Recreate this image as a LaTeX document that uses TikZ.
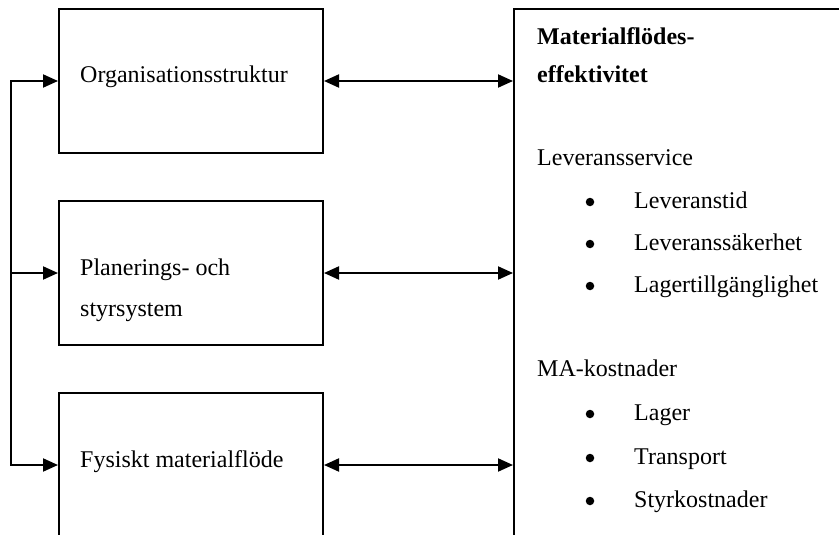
\documentclass[tikz,border=0pt]{standalone}
\usepackage{fontspec}
\setmainfont{Liberation Serif}
\usetikzlibrary{arrows.meta}
\begin{document}
\begin{tikzpicture}[x=1pt,y=-1pt,
  box/.style={draw,line width=2pt,anchor=north west,inner sep=0pt},
  lbl/.style={anchor=base west,inner sep=0pt,font=\fontsize{24}{28}\selectfont},
  bul/.style={circle,fill,inner sep=0pt,minimum size=8.5pt},
  con/.style={line width=2pt,-{Triangle[length=15pt,width=13pt]}},
  dcon/.style={line width=2pt,{Triangle[length=15pt,width=13pt]}-{Triangle[length=15pt,width=13pt]}}]
\useasboundingbox (0,0) rectangle (839,535);
\clip (0,0) rectangle (839,535);
% boxes
\node[box,minimum width=264pt,minimum height=144pt] (b1) at (58,8) {};
\node[box,minimum width=264pt,minimum height=144pt] (b2) at (58,200) {};
\node[box,minimum width=264pt,minimum height=144pt] (b3) at (58,392) {};
\node[box,minimum width=420pt,minimum height=580pt] (r) at (513,8) {};
% left texts
\node[lbl] (t1) at (80,83) {Organisationsstruktur};
\node[lbl] (t2a) at (80,275) {Planerings- och};
\node[lbl] (t2b) at (80,316) {styrsystem};
\node[lbl] (t3) at (80,467) {Fysiskt materialflöde};
% right texts
\node[lbl,font=\fontsize{24}{28}\selectfont\bfseries] (h1) at (537,45) {Materialflödes-};
\node[lbl,font=\fontsize{24}{28}\selectfont\bfseries] (h2) at (537,83) {effektivitet};
\node[lbl] (s1) at (537,165) {Leveransservice};
\node[bul] (p1) at (590,202) {};
\node[lbl] (i1) at (634,208) {Leveranstid};
\node[bul] (p2) at (590,244) {};
\node[lbl] (i2) at (634,250) {Leveranssäkerhet};
\node[bul] (p3) at (590,286) {};
\node[lbl] (i3) at (634,292) {Lagertillgänglighet};
\node[lbl] (s2) at (537,376) {MA-kostnader};
\node[bul] (p4) at (590,414) {};
\node[lbl] (i4) at (634,420) {Lager};
\node[bul] (p5) at (590,458) {};
\node[lbl] (i5) at (634,464) {Transport};
\node[bul] (p6) at (590,501) {};
\node[lbl] (i6) at (634,507) {Styrkostnader};
% left feed line
\coordinate (x0) at (11,0);
\coordinate (j1) at (x0 |- b1.west);
\coordinate (j2) at (x0 |- b2.west);
\coordinate (j3) at (x0 |- b3.west);
\draw[line width=2pt,line join=miter] ([xshift=6pt]j1) -- (j1) -- (j3) -- ([xshift=6pt]j3);
\draw[con] (j1) -- (b1.west);
\draw[con] (j2) -- (b2.west);
\draw[con] (j3) -- (b3.west);
% double arrows
\draw[dcon] (b1.east) -- (b1.east -| r.west);
\draw[dcon] (b2.east) -- (b2.east -| r.west);
\draw[dcon] (b3.east) -- (b3.east -| r.west);
\end{tikzpicture}
\end{document}
